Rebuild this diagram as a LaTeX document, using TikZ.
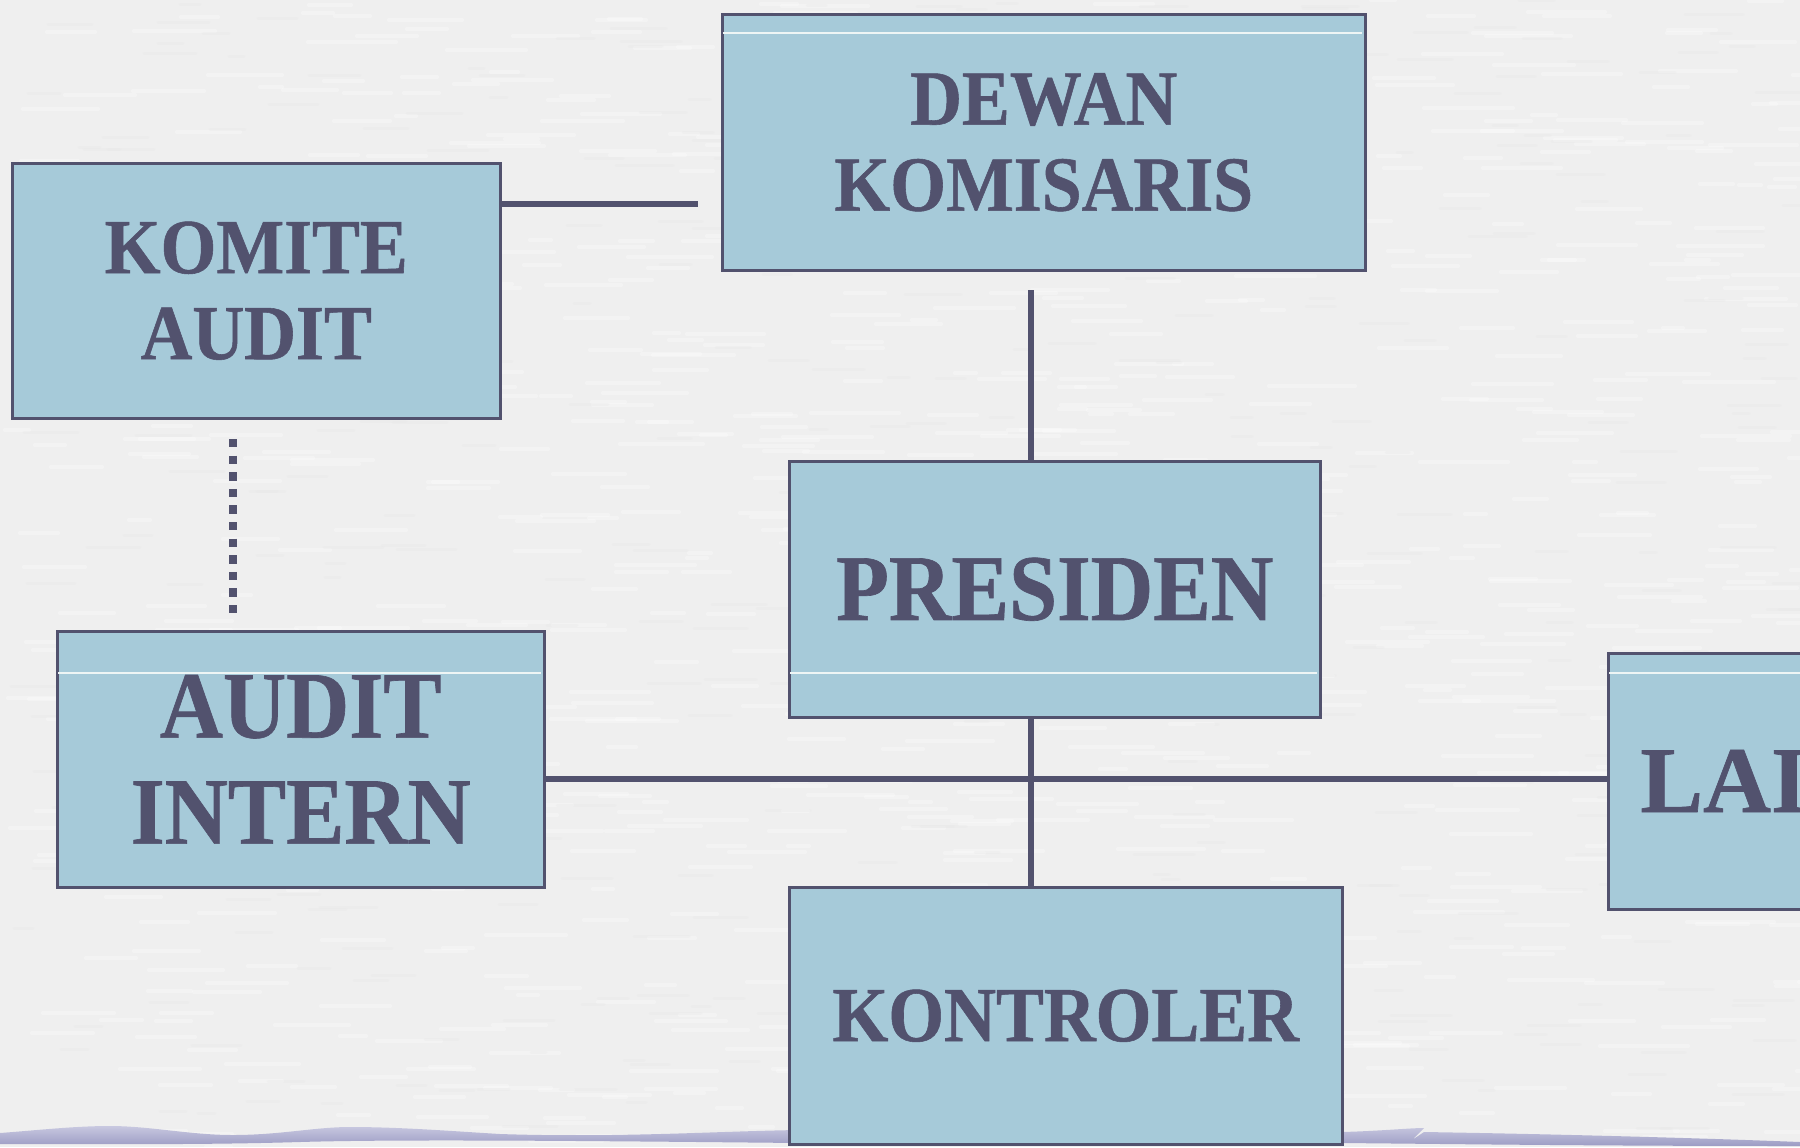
\documentclass[tikz,border=0pt]{standalone}
\usepackage{fontspec}
\setmainfont{Liberation Serif}[FakeStretch=0.92, BoldFeatures={FakeBold=0.7}]
\newfontfamily\widefont{Liberation Serif}[BoldFeatures={FakeBold=0.7}]
\definecolor{paper}{HTML}{EFEFEF}
\definecolor{paperdark}{HTML}{E6E6E6}
\definecolor{boxfill}{HTML}{A6CAD9}
\definecolor{ink}{HTML}{52526E}
\definecolor{bandtop}{HTML}{C8C8E0}
\definecolor{bandbot}{HTML}{9C9CC4}
\definecolor{guide}{HTML}{EEF5F5}

\begin{document}
\begin{tikzpicture}[x=0.5pt,y=-0.5pt,
  orgbox/.style={draw=ink, line width=1.25pt, fill=boxfill, text=ink,
    font=\bfseries, align=center, inner sep=0pt, anchor=north west},
  conn/.style={draw=ink, line width=3.3pt},
  dotconn/.style={draw=ink, line width=4pt, dash pattern=on 4.15pt off 4.15pt},
  guideline/.style={draw=guide, line width=0.6pt}]

\useasboundingbox (0,0) rectangle (1800,1147);
\clip (0,0) rectangle (1800,1147);

% paper background with faint horizontal grain
\fill[paper] (0,0) rectangle (1800,1147);
\pgfmathsetseed{4711}
\foreach \i in {1,...,900}{
  \pgfmathsetmacro\xx{random(0,1800)}
  \pgfmathsetmacro\yy{random(0,1147)}
  \pgfmathsetmacro\ll{random(20,90)}
  \draw[white, line width=2pt, opacity=0.3, line cap=round] (\xx,\yy) -- ++(\ll,0);
}
\foreach \i in {1,...,400}{
  \pgfmathsetmacro\xx{random(0,1800)}
  \pgfmathsetmacro\yy{random(0,1147)}
  \pgfmathsetmacro\ll{random(15,60)}
  \draw[paperdark, line width=1.5pt, opacity=0.25, line cap=round] (\xx,\yy) -- ++(\ll,0);
}

% wavy band along the bottom edge
\shade[top color=bandtop, bottom color=bandbot]
  (0,1133) .. controls (40,1130) and (75,1126) .. (110,1126)
  .. controls (150,1126) and (190,1135) .. (233,1135)
  .. controls (280,1135) and (315,1127) .. (350,1127)
  .. controls (400,1127) and (450,1131) .. (500,1134)
  .. controls (620,1138) and (720,1131) .. (800,1130)
  -- (1342,1132) .. controls (1380,1131) and (1410,1128) .. (1424,1128)
  -- (1412,1140) -- (1424,1132)
  .. controls (1550,1134) and (1700,1138) .. (1800,1142)
  -- (1800,1146) .. controls (1600,1146) and (1450,1144) .. (1342,1143)
  -- (800,1143)
  .. controls (600,1141) and (400,1139) .. (300,1142)
  .. controls (200,1145) and (100,1144) .. (0,1144) -- cycle;

% boxes
\node[orgbox, minimum width=321.5pt, minimum height=128pt,
  font=\bfseries\fontsize{39}{43}\selectfont] (dk) at (721,13) {DEWAN\\KOMISARIS};
\node[orgbox, minimum width=244pt, minimum height=127.5pt,
  font=\bfseries\fontsize{39}{43}\selectfont] (ka) at (11,162) {KOMITE\\AUDIT};
\node[orgbox, minimum width=265.5pt, minimum height=128pt,
  font=\bfseries\fontsize{47}{52}\selectfont] (pres) at (788,460) {PRESIDEN};
\node[orgbox, minimum width=243.5pt, minimum height=128pt,
  font=\bfseries\fontsize{47.5}{53}\selectfont] (ai) at (56,630) {AUDIT\\INTERN};
\node[orgbox, minimum width=276.5pt, minimum height=128.5pt,
  font=\bfseries\fontsize{39}{43}\selectfont] (kon) at (788,886) {KONTROLER};
\node[orgbox, minimum width=250pt, minimum height=128pt] (lai) at (1607,652) {};
\node[anchor=base west, inner sep=0pt, text=ink,
  font=\widefont\bfseries\fontsize{47}{52}\selectfont] (laitext) at (1640,812) {LAI};

% faint rules crossing the boxes
\draw[guideline] (723,33) -- (1362,33);
\draw[guideline] (790,673) -- (1317,673);
\draw[guideline] (58,673) -- (541,673);
\draw[guideline] (1609,673) -- (1800,673);

% connectors
\coordinate (kastub) at (698,204);
\coordinate (dkstub) at (1031,290);
\coordinate (bus) at (1031,779);
\coordinate (dottop) at (233,439);
\coordinate (dotbot) at (233,613);

\draw[conn] (ka.east |- kastub) -- (kastub);
\draw[conn] (dkstub) -- (dkstub |- pres.north);
\draw[conn] (pres.south -| dkstub) -- (kon.north -| dkstub);
\draw[conn] (ai.east |- bus) -- (lai.west |- bus);
\draw[dotconn] (dottop) -- (dotbot);

\end{tikzpicture}
\end{document}
